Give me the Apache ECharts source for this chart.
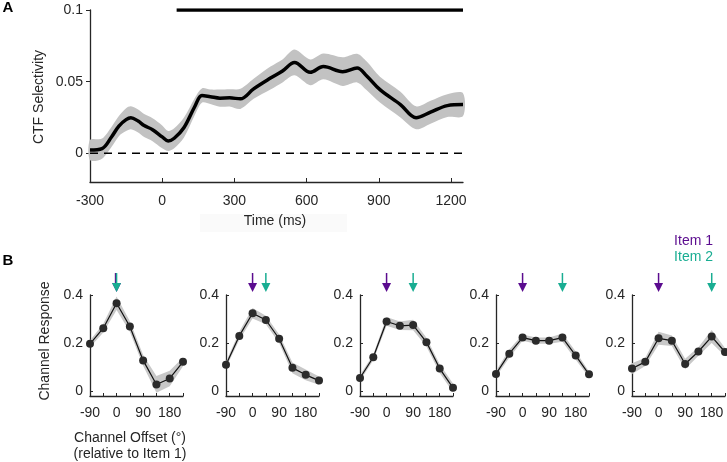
<!DOCTYPE html>
<html><head><meta charset="utf-8">
<script src="https://cdn.jsdelivr.net/npm/echarts@6/dist/echarts.min.js"></script>
<style>html,body{margin:0;padding:0;background:#fff}#c{width:727px;height:462px}</style>
</head><body><div id="c"></div>
<script>
// ---------- Panel A data ----------
const timeMs = [-300,-250,-210,-180,-150,-130,-100,-75,-40,0,25,50,90,135,165,200,240,280,325,380,450,500,550,615,670,750,810,850,905,990,1055,1115,1185,1250];
const ctfSel = [0.0023,0.0033,0.0116,0.019,0.0235,0.0248,0.0225,0.0194,0.0165,0.0115,0.0086,0.0105,0.0178,0.0325,0.0403,0.0395,0.0385,0.0387,0.0380,0.0450,0.0525,0.0575,0.0634,0.0565,0.0606,0.0570,0.0595,0.0540,0.0444,0.0340,0.0248,0.0287,0.0333,0.0340];
const ctfSem = [0.007,0.007,0.007,0.007,0.008,0.008,0.008,0.008,0.008,0.008,0.007,0.007,0.007,0.006,0.005,0.005,0.006,0.006,0.007,0.007,0.008,0.008,0.009,0.009,0.009,0.010,0.010,0.010,0.009,0.009,0.008,0.008,0.008,0.008];
const sigBar = [60, 1250];
const sigLevel = 0.1;
const timeRange = [-300, 1250];
const timeTicks = [-300,0,300,600,900,1200];
const selRange = [-0.02, 0.1];
const selTicks = [0,0.05,0.1];

// ---------- Panel B data ----------
const offsets = [-90,-45,0,45,90,135,180,225];
const offsetLabels = [-90,0,90,180];
const respTicks = [0,0.2,0.4];
const respRange = [-0.02, 0.4];
const resp1 = [0.197,0.262,0.366,0.269,0.128,0.028,0.053,0.122];
const resp2 = [0.110,0.230,0.324,0.296,0.218,0.097,0.068,0.044];
const resp3 = [0.055,0.141,0.290,0.272,0.275,0.204,0.094,0.014];
const resp4 = [0.072,0.156,0.223,0.210,0.210,0.223,0.148,0.070];
const resp5 = [0.094,0.122,0.220,0.210,0.113,0.165,0.227,0.163];
const sem1 = [0.014,0.018,0.028,0.022,0.022,0.035,0.032,0.018];
const sem2 = [0.012,0.017,0.022,0.018,0.018,0.022,0.022,0.017];
const sem3 = [0.012,0.012,0.018,0.018,0.022,0.018,0.018,0.018];
const sem4 = [0.012,0.017,0.013,0.013,0.013,0.017,0.017,0.012];
const sem5 = [0.022,0.017,0.027,0.022,0.022,0.018,0.027,0.017];
const item1Offset = 0;
const item2Offsets = [0,45,90,135,180];

const PURPLE = '#5b0c8f', TEAL = '#19ad92', INK = '#262626';
const FONT = 'Liberation Sans';
const FS = 14;
const resps = [resp1,resp2,resp3,resp4,resp5];
const sems = [sem1,sem2,sem3,sem4,sem5];
const bLefts = [90,226,360,496,632];

function bandSeries(idx, xs, ys, es, color, smooth){
  return {type:'custom', xAxisIndex:idx, yAxisIndex:idx, silent:true, z:1,
    data:[[xs[0], ys[0]]], encode:{x:0,y:1},
    renderItem:(p, api)=>{
      const up=[], lo=[];
      for(let i=0;i<xs.length;i++){
        up.push(api.coord([xs[i], ys[i]+es[i]]));
        lo.push(api.coord([xs[i], ys[i]-es[i]]));
      }
      return {type:'polygon', shape:{points: up.concat(lo.reverse()), smooth: smooth}, style:{fill:color}};
    }};
}

const grids = [{left:90, top:10, width:373, height:172}];
const xAxes = [{gridIndex:0, type:'value', min:timeRange[0], max:timeRange[1],
  axisLine:{onZero:false, lineStyle:{color:INK, width:1.3}},
  axisTick:{show:true, inside:true, length:4, customValues:timeTicks, lineStyle:{color:INK}},
  axisLabel:{customValues:timeTicks, fontSize:FS, color:INK, fontFamily:FONT, margin:12, formatter:v=>String(v)},
  splitLine:{show:false}}];
const yAxes = [{gridIndex:0, type:'value', min:selRange[0], max:selRange[1],
  axisLine:{show:true, onZero:false, lineStyle:{color:INK, width:1.3}},
  axisTick:{show:true, inside:false, length:4, customValues:selTicks, lineStyle:{color:INK}},
  axisLabel:{customValues:selTicks, fontSize:FS, color:INK, fontFamily:FONT, margin:7,
    formatter:v=> v===0?'0':String(+v.toFixed(2))},
  splitLine:{show:false}}];
const series = [
  bandSeries(0, timeMs, ctfSel, ctfSem, '#c2c2c2', 0.3),
  {type:'line', xAxisIndex:0, yAxisIndex:0, data:[[timeRange[0],0],[timeRange[1],0]], symbol:'none',
    lineStyle:{color:'#000', width:1.5, type:[8,6]}, z:2, silent:true},
  {type:'line', xAxisIndex:0, yAxisIndex:0, data:timeMs.map((t,i)=>[t, ctfSel[i]]), symbol:'none', smooth:0.35,
    lineStyle:{color:'#000', width:3.5}, z:3, silent:true},
  {type:'line', xAxisIndex:0, yAxisIndex:0, data:[[sigBar[0],sigLevel],[sigBar[1],sigLevel]], symbol:'none',
    lineStyle:{color:'#000', width:3.5}, z:3, silent:true}
];

for(let k=0;k<5;k++){
  const idx = k+1;
  grids.push({left:bLefts[k], top:295, width:93, height:101});
  xAxes.push({gridIndex:idx, type:'value', min:-90, max:225, interval:45,
    axisLine:{onZero:false, lineStyle:{color:INK, width:1.3}},
    axisTick:{show:true, inside:true, length:3, customValues:offsets, lineStyle:{color:INK}},
    axisLabel:{customValues:offsetLabels, fontSize:FS, color:INK, fontFamily:FONT, margin:10},
    splitLine:{show:false}});
  yAxes.push({gridIndex:idx, type:'value', min:respRange[0], max:respRange[1],
    axisLine:{show:true, onZero:false, lineStyle:{color:INK, width:1.3}},
    axisTick:{show:true, inside:true, length:3, customValues:respTicks, lineStyle:{color:INK}},
    axisLabel:{customValues:respTicks, fontSize:FS, color:INK, fontFamily:FONT, margin:7,
      formatter:v=> v===0?'0':v.toFixed(1)},
    splitLine:{show:false}});
  series.push(bandSeries(idx, offsets, resps[k], sems[k], '#c8c8c8', 0));
  series.push({type:'line', xAxisIndex:idx, yAxisIndex:idx, data:offsets.map((o,i)=>[o, resps[k][i]]),
    symbol:'circle', symbolSize:8, itemStyle:{color:'#2b2b2b', borderWidth:0},
    lineStyle:{color:'#111', width:1.2}, z:3, silent:true});
  series.push({type:'custom', xAxisIndex:idx, yAxisIndex:idx, clip:false, silent:true, z:4,
    data:[[item1Offset, respRange[1], 0],[item2Offsets[k], respRange[1], 1]], encode:{x:0,y:1},
    renderItem:(p, api)=>{
      const pt = api.coord([api.value(0), api.value(1)]);
      const c = api.value(2)===0 ? PURPLE : TEAL;
      const dx = (api.value(2)===0 && item2Offsets[k]===item1Offset) ? -1 : 0;
      return {type:'group', children:[
        {type:'line', shape:{x1:pt[0]+dx, y1:pt[1]-22, x2:pt[0]+dx, y2:pt[1]-10}, style:{stroke:c, lineWidth:1.5}},
        {type:'polygon', shape:{points:[[pt[0]-4.5,pt[1]-12],[pt[0]+4.5,pt[1]-12],[pt[0],pt[1]-3]]}, style:{fill:c}}
      ]};
    }});
}

const txt = (x,y,text,extra)=>({type:'text', x, y, style:Object.assign({text, fontFamily:FONT, fontSize:FS, fill:INK, align:'center', verticalAlign:'middle'}, extra||{})});

const option = {
  animation:false,
  backgroundColor:'#fff',
  grid:grids, xAxis:xAxes, yAxis:yAxes, series:series,
  graphic:[
    {type:'rect', shape:{x:200, y:214, width:147, height:18}, style:{fill:'#fafafa'}, z:-1},
    txt(275, 221, 'Time (ms)'),
    {type:'text', x:39, y:97, rotation:Math.PI/2, style:{text:'CTF Selectivity', fontFamily:FONT, fontSize:FS, fill:INK, align:'center', verticalAlign:'middle'}},
    {type:'text', x:45, y:341, rotation:Math.PI/2, style:{text:'Channel Response', fontFamily:FONT, fontSize:FS, fill:INK, align:'center', verticalAlign:'middle'}},
    txt(130, 438, 'Channel Offset (°)'),
    txt(130, 454, '(relative to Item 1)'),
    txt(8, 8, 'A', {fontWeight:'bold', fontSize:15, fill:'#000'}),
    txt(8, 261, 'B', {fontWeight:'bold', fontSize:15, fill:'#000'}),
    txt(713, 241, 'Item 1', {fill:PURPLE, align:'right'}),
    txt(713, 257, 'Item 2', {fill:TEAL, align:'right'})
  ]
};
const chart = echarts.init(document.getElementById('c'), null, {renderer:'canvas'});
chart.setOption(option);
</script></body></html>
